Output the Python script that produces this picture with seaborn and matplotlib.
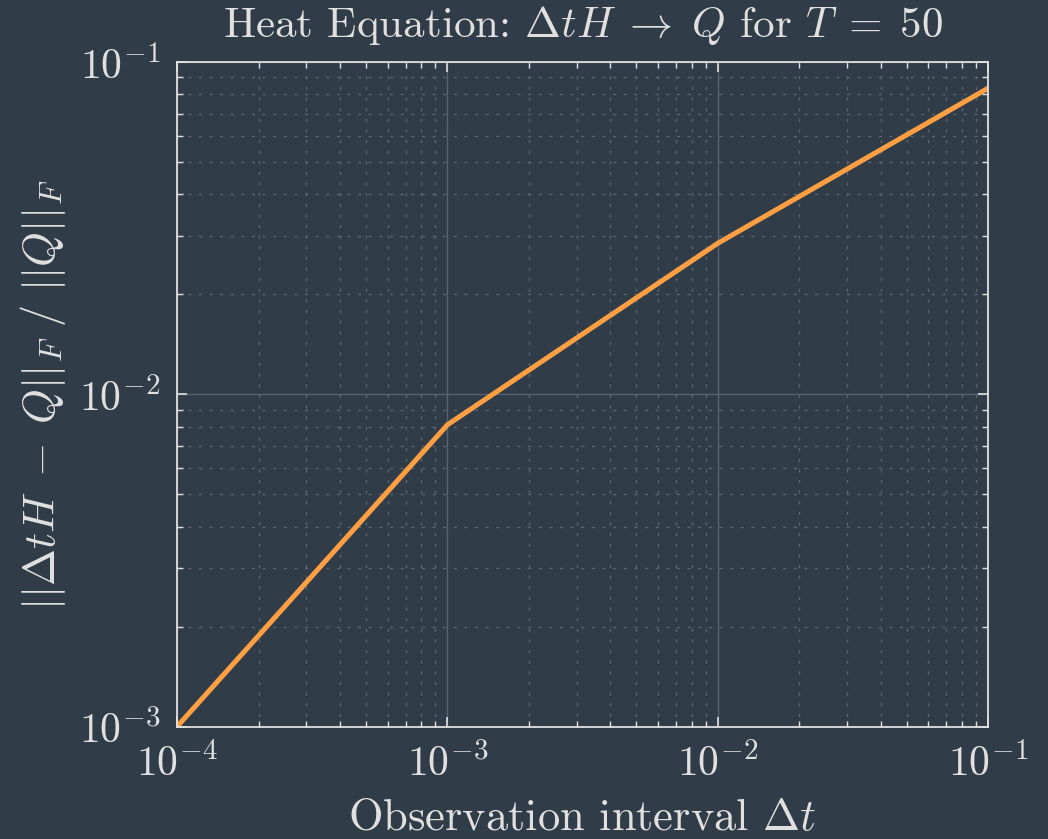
import matplotlib
matplotlib.use('Agg')
import matplotlib.pyplot as plt
import seaborn as sns
import pandas as pd

dt = [1e-4, 1e-3, 1e-2, 1e-1]
rel_err = [1.0e-3, 8.1e-3, 2.85e-2, 8.35e-2]

bg = '#303c47'
fg = '#e0e0e0'

sns.set_theme(style='ticks')
plt.rcParams.update({
    'font.family': 'serif',
    'font.serif': ['cmr10'],
    'mathtext.fontset': 'cm',
    'axes.formatter.use_mathtext': True,
    'axes.unicode_minus': False,
})

df = pd.DataFrame({'dt': dt, 'err': rel_err})

fig, ax = plt.subplots(figsize=(10.48, 8.39), dpi=100)
fig.patch.set_facecolor(bg)
ax.set_facecolor(bg)

sns.lineplot(data=df, x='dt', y='err', color='#ff9f43', linewidth=3.6, ax=ax)
ax.set_xscale('log')
ax.set_yscale('log')
ax.set_xlim(1e-4, 1e-1)
ax.set_ylim(1e-3, 1e-1)

ax.grid(which='major', color='#58636d', linestyle='-', linewidth=1.0)
ax.grid(which='minor', color='#5c6771', linestyle=(0, (2.5, 6)), linewidth=0.9)

for s in ax.spines.values():
    s.set_color(fg)
    s.set_linewidth(1.3)
ax.tick_params(which='both', direction='in', top=True, right=True, colors=fg, labelsize=30)
ax.tick_params(which='major', length=7, width=1.2, pad=12)
ax.tick_params(which='minor', length=4, width=1.0)

ax.set_title(r'Heat Equation: $\Delta t H \;\rightarrow\; Q$ for $T \;=\; 50$', color=fg, fontsize=31, pad=18)
ax.set_xlabel(r'Observation interval $\Delta t$', color=fg, fontsize=32, labelpad=11)
ax.set_ylabel(r'$||\Delta t H \;-\; Q||_F\ /\ ||Q||_F$', color=fg, fontsize=32, labelpad=8)

plt.subplots_adjust(left=0.169, right=0.943, top=0.926, bottom=0.134)
plt.savefig('out.png', dpi=100, facecolor=bg)
